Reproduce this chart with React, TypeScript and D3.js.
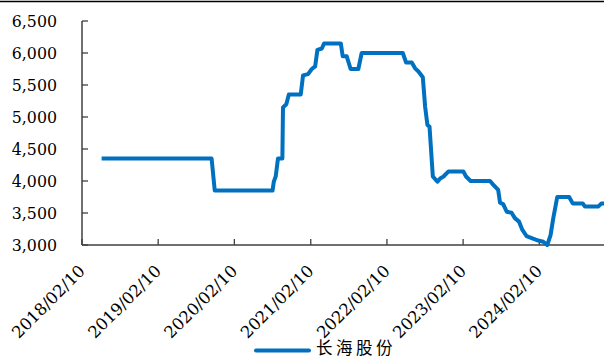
import React from "react";
import * as d3 from "d3";

const seriesName = "长海股份";
const dates = [
  "2018-05-15","2019-10-24","2019-11-08","2020-08-11","2020-08-17","2020-08-26","2020-09-06","2020-09-27",
  "2020-09-30","2020-10-16","2020-10-28","2020-12-24","2021-01-04","2021-01-28","2021-02-15","2021-03-03",
  "2021-03-14","2021-04-04","2021-04-15","2021-07-04","2021-07-13","2021-08-01","2021-08-20","2021-09-26",
  "2021-10-12","2022-04-27","2022-05-13","2022-06-09","2022-06-25","2022-07-11","2022-08-01","2022-08-12",
  "2022-08-23","2022-09-02","2022-09-18","2022-10-10","2022-10-23","2022-11-08","2022-12-02","2023-02-11",
  "2023-02-24","2023-03-18","2023-06-19","2023-07-05","2023-07-28","2023-08-06","2023-08-21","2023-09-07",
  "2023-09-30","2023-10-16","2023-11-05","2023-11-21","2023-12-11","2024-01-11","2024-02-05","2024-02-29",
  "2024-03-19","2024-04-04","2024-04-17","2024-05-06","2024-07-02","2024-07-19","2024-09-05","2024-09-16",
  "2024-11-18","2024-12-04","2024-12-16"
];
const values = [
  4350,4350,3850,3850,3990,4070,4350,4350,
  5150,5200,5350,5350,5650,5670,5750,5790,
  6050,6070,6150,6150,5950,5950,5750,5750,
  6000,6000,5850,5850,5760,5710,5620,5160,
  4875,4850,4070,3990,4040,4070,4150,4150,
  4070,4000,4000,3940,3860,3660,3640,3520,
  3505,3420,3365,3235,3140,3100,3070,3050,
  3000,3155,3420,3750,3750,3650,3650,3600,
  3600,3650,3650
];
const xTickLabels = ["2018/02/10","2019/02/10","2020/02/10","2021/02/10","2022/02/10","2023/02/10","2024/02/10"];
const yTicks = [3000,3500,4000,4500,5000,5500,6000,6500];

const W = 604, H = 358;
const parse = d3.timeParse("%Y-%m-%d");
const parseTick = d3.timeParse("%Y/%m/%d");

export default function App() {
  const x = d3.scaleTime()
    .domain([parse("2018-02-10")!, parse("2024-12-16")!])
    .range([82, 604]);
  const y = d3.scaleLinear().domain([3000, 6500]).range([245, 21]);
  const data = dates.map((d, i) => ({ d: parse(d)!, v: values[i] }));
  const line = d3.line<{ d: Date; v: number }>().x(p => x(p.d)).y(p => y(p.v));
  const fmt = d3.format(",");
  const serif = "DejaVu Serif";
  const axisColor = "#404040";
  return (
    <div style={{ position: "absolute", left: 0, top: 0 }}>
      <svg width={W} height={H} style={{ display: "block", background: "#fff" }}>
        <line x1={0} x2={W} y1={1.5} y2={1.5} stroke="#000" strokeWidth={1.5} />
        {/* y axis */}
        <line x1={82} x2={82} y1={y(6500)} y2={245} stroke={axisColor} strokeWidth={1.5} />
        {yTicks.map(t => (
          <g key={t}>
            <line x1={82} x2={88} y1={y(t)} y2={y(t)} stroke={axisColor} strokeWidth={1.3} />
            <text x={57} y={y(t) + 6}
              textAnchor="end" fontFamily={serif} fontSize={15.8} fill="#000">
              {fmt(t)}
            </text>
          </g>
        ))}
        {/* x axis */}
        <line x1={82} x2={W} y1={245} y2={245} stroke={axisColor} strokeWidth={1.5} />
        {xTickLabels.map(lbl => {
          const px = x(parseTick(lbl)!);
          return (
            <g key={lbl}>
              <line x1={px} x2={px} y1={245} y2={239} stroke={axisColor} strokeWidth={1.3} />
              <text transform={`translate(${px + 4},${272}) rotate(-45)`}
                textAnchor="end" fontFamily={serif} fontSize={16.5} fill="#000">{lbl}</text>
            </g>
          );
        })}
        <path d={line(data) || ""} fill="none" stroke="#0070C0" strokeWidth={4} strokeLinejoin="round" />
        {/* legend */}
        <line x1={256} x2={309} y1={350.5} y2={350.5} stroke="#0070C0" strokeWidth={4} strokeLinecap="round" />
        <text x={316} y={354} fontFamily="Noto Sans CJK SC" fontSize={16.5} letterSpacing={3.5} fill="#000">{seriesName}</text>
      </svg>
    </div>
  );
}
